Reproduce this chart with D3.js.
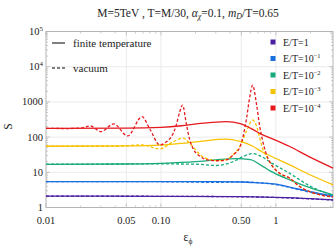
<!DOCTYPE html>
<html>
<head>
<meta charset="utf-8">
<script src="https://cdn.jsdelivr.net/npm/d3@7"></script>
<style>
  body { margin: 0; background: #fff; }
  text { font-family: "Liberation Serif", "DejaVu Serif", serif; fill: #222; }
</style>
</head>
<body>
<div id="chart"></div>
<script>
// series data, S vs eps_phi
// E/T = 1
var eps1 = [0.01, 0.1, 0.5, 1, 2, 3.14];
var fin1 = [2.1, 2.08, 2.03, 1.93, 1.78, 1.65];
var vac1 = [2.1, 2.08, 2.02, 1.92, 1.76, 1.63];

// E/T = 1e-1
var eps2 = [0.01, 0.1, 0.3, 0.5, 0.7, 1, 1.32, 2, 3.14];
var fin2 = [5.4, 5.4, 5.4, 5.3, 5.0, 4.6, 3.8, 2.8, 2.1];
var vac2 = [5.4, 5.4, 5.2, 5.35, 5.1, 4.5, 3.7, 2.7, 2.05];

// E/T = 1e-2
var eps3fin = [0.01, 0.05, 0.1, 0.2, 0.3, 0.45, 0.6, 0.75, 0.89, 1.32, 2, 3.14];
var fin3 = [16.9, 17.2, 18, 20, 22.5, 24.5, 23, 15.5, 11, 6.1, 3.6, 2.3];
var eps3vac = [0.01, 0.1, 0.2, 0.3, 0.38, 0.45, 0.53, 0.63, 0.75, 0.89, 1.32, 2, 3.14];
var vac3 = [16.9, 17.3, 17, 15.6, 17.5, 22, 29, 34, 28, 19.5, 9.3, 4.0, 2.2];

// E/T = 1e-3
var eps4fin = [0.01, 0.05, 0.1, 0.15, 0.22, 0.37, 0.49, 0.63, 0.75, 0.89, 1.32, 1.98, 3.14];
var fin4 = [55, 56, 59, 66, 76, 88, 75, 55, 39, 29.5, 16.2, 8.5, 4.4];
var eps4vac = [0.01, 0.04, 0.068, 0.097, 0.128, 0.155, 0.19, 0.22, 0.266, 0.309, 0.37, 0.425,
               0.487, 0.556, 0.627, 0.68, 0.72, 0.77, 0.82, 0.89, 1.05, 1.32, 1.6, 1.98, 3.14];
var vac4 = [55, 55, 60, 46, 74, 93, 53, 31, 23, 21.5, 23, 32,
            55, 150, 306, 200, 100, 45, 30, 19, 10, 6.8, 4, 2.8, 2.0];

// E/T = 1e-4
var eps5fin = [0.01, 0.05, 0.1, 0.15, 0.22, 0.37, 0.49, 0.63, 0.75, 0.89, 1.32, 1.98, 3.14];
var fin5 = [178, 180, 190, 210, 245, 275, 240, 165, 120, 95, 54, 27, 13.2];
var eps5vac = [0.01, 0.015, 0.02, 0.0243, 0.03, 0.0388, 0.0513, 0.0684, 0.08, 0.098, 0.112, 0.128,
               0.136, 0.146, 0.154, 0.167, 0.178, 0.19, 0.22, 0.266, 0.309, 0.37, 0.425, 0.487,
               0.556, 0.59, 0.627, 0.68, 0.72, 0.77, 0.82, 0.89, 1.05, 1.32, 1.6, 1.98, 3.14];
var vac5 = [178, 175, 180, 207, 143, 236, 108, 380, 170, 60, 74.5, 128,
            222, 530, 815, 222, 83, 48, 28, 22, 21.3, 22.5, 31, 53,
            344, 1270, 2970, 820, 222, 74.5, 35, 19, 10, 6.8, 4, 2.8, 2.0];

var legendLabels = ["1", "10", "10", "10", "10"];
var legendExps = ["", "\u22121", "\u22122", "\u22123", "\u22124"];
var colors = ["#4a1fa0", "#1a6fe0", "#17aa7c", "#f7c200", "#e5191e"];

var xTicks = [0.01, 0.05, 0.1, 0.5, 1];
var xTickLabels = ["0.01", "0.05", "0.10", "0.50", "1"];
var yTicks = [1, 10, 100, 1000, 1e4, 1e5];
var yTickLabels = ["1", "10", "100", "1000", "10", "10"];
var yTickExps = ["", "", "", "", "4", "5"];

var W = 336, H = 249;
var margin = {top: 31.5, right: 3, bottom: 41.5, left: 46};

var svg = d3.select("#chart").append("svg")
    .attr("width", W).attr("height", H);

var x = d3.scaleLog().domain([0.01, 3.14]).range([margin.left, W - margin.right]);
var y = d3.scaleLog().domain([1, 1e5]).range([H - margin.bottom, margin.top]);

var x0 = x.range()[0], x1 = x.range()[1], y0 = y.range()[0], y1 = y.range()[1];

// grid lines
var grid = svg.append("g");
grid.selectAll("line.gx")
    .data([0.05, 0.1, 0.5, 1])
    .enter().append("line")
    .attr("x1", function(d) { return x(d); }).attr("x2", function(d) { return x(d); })
    .attr("y1", y1).attr("y2", y0)
    .style("stroke", "#ebebeb").style("stroke-width", 1);
grid.selectAll("line.gy")
    .data([10, 100, 1000, 1e4])
    .enter().append("line")
    .attr("x1", x0).attr("x2", x1)
    .attr("y1", function(d) { return y(d); }).attr("y2", function(d) { return y(d); })
    .style("stroke", "#ebebeb").style("stroke-width", 1);

// frame with ticks
var axisCol = "#b4b4b4";
var xMinor = [];
[0.01, 0.1, 1].forEach(function(b) {
  for (var k = 1; k < 10; k++) { var v = b * k; if (v <= 3.14) xMinor.push(v); }
});
var yMinor = [];
[1, 10, 100, 1000, 1e4].forEach(function(b) {
  for (var k = 1; k < 10; k++) yMinor.push(b * k);
});

var frame = svg.append("g");
frame.selectAll("line.xt").data(xMinor).enter().append("line")
    .attr("x1", function(d) { return x(d); }).attr("x2", function(d) { return x(d); })
    .attr("y1", y0).attr("y2", function(d) { return y0 - (xTicks.indexOf(d) >= 0 ? 4 : 2); })
    .style("stroke", axisCol).style("stroke-width", 0.7);
frame.selectAll("line.xtt").data(xMinor).enter().append("line")
    .attr("x1", function(d) { return x(d); }).attr("x2", function(d) { return x(d); })
    .attr("y1", y1).attr("y2", function(d) { return y1 + (xTicks.indexOf(d) >= 0 ? 4 : 2); })
    .style("stroke", axisCol).style("stroke-width", 0.7);
frame.selectAll("line.yt").data(yMinor).enter().append("line")
    .attr("x1", x0).attr("x2", function(d) { return x0 + (yTicks.indexOf(d) >= 0 ? 4 : 2); })
    .attr("y1", function(d) { return y(d); }).attr("y2", function(d) { return y(d); })
    .style("stroke", axisCol).style("stroke-width", 0.7);
frame.selectAll("line.ytr").data(yMinor).enter().append("line")
    .attr("x1", x1).attr("x2", function(d) { return x1 - (yTicks.indexOf(d) >= 0 ? 4 : 2); })
    .attr("y1", function(d) { return y(d); }).attr("y2", function(d) { return y(d); })
    .style("stroke", axisCol).style("stroke-width", 0.7);
frame.append("rect")
    .attr("x", x0).attr("y", y1).attr("width", x1 - x0).attr("height", y0 - y1)
    .style("fill", "none").style("stroke", axisCol).style("stroke-width", 1);

// tick labels
svg.selectAll("text.xl").data(xTicks).enter().append("text")
    .attr("x", function(d) { return x(d); }).attr("y", y0 + 16)
    .attr("text-anchor", "middle").style("font-size", "10.5px")
    .text(function(d, i) { return xTickLabels[i]; });

var yl = svg.selectAll("text.yl").data(yTicks).enter().append("text")
    .attr("x", x0 - 3).attr("y", function(d) { return y(d) + 3.5; })
    .attr("text-anchor", "end").style("font-size", "10.5px");
yl.append("tspan").text(function(d, i) { return yTickLabels[i]; });
yl.append("tspan").attr("dy", -4).style("font-size", "7px")
    .text(function(d, i) { return yTickExps[i]; });

// curves
var line = d3.line()
    .x(function(d) { return x(d[0]); })
    .y(function(d) { return y(d[1]); })
    .curve(d3.curveMonotoneX);

var seriesList = [
  [eps1, fin1, eps1, vac1],
  [eps2, fin2, eps2, vac2],
  [eps3fin, fin3, eps3vac, vac3],
  [eps4fin, fin4, eps4vac, vac4],
  [eps5fin, fin5, eps5vac, vac5]
];

var plot = svg.append("g");
seriesList.forEach(function(s, i) {
  plot.append("path")
      .attr("d", line(d3.zip(s[0], s[1])))
      .style("fill", "none").style("stroke", colors[i]).style("stroke-width", 1.3);
  plot.append("path")
      .attr("d", line(d3.zip(s[2], s[3])))
      .style("fill", "none").style("stroke", colors[i]).style("stroke-width", 1.3)
      .style("stroke-dasharray", "3,2");
});

// line-style legend
var lsLeg = svg.append("g");
lsLeg.append("line").attr("x1", 52).attr("x2", 65).attr("y1", 43).attr("y2", 43)
    .style("stroke", "#555").style("stroke-width", 1.5);
lsLeg.append("text").attr("x", 73).attr("y", 46.5).style("font-size", "11px").text("finite temperature");
lsLeg.append("line").attr("x1", 52).attr("x2", 65).attr("y1", 68).attr("y2", 68)
    .style("stroke", "#555").style("stroke-width", 1.5).style("stroke-dasharray", "3,2");
lsLeg.append("text").attr("x", 73).attr("y", 71.5).style("font-size", "11px").text("vacuum");

// colour legend
var cLeg = svg.append("g");
legendLabels.forEach(function(lab, i) {
  var cy = 42 + i * 16.5;
  cLeg.append("rect").attr("x", 270.5).attr("y", cy - 2.5).attr("width", 5).attr("height", 5)
      .style("fill", colors[i]);
  var t = cLeg.append("text").attr("x", 283).attr("y", cy + 3.5).style("font-size", "10px");
  t.append("tspan").text("E/T=" + lab);
  if (legendExps[i]) t.append("tspan").attr("dy", -4).style("font-size", "6.5px").text(legendExps[i]);
});

// title
var title = svg.append("text").attr("x", 188).attr("y", 17)
    .attr("text-anchor", "middle").style("font-size", "11.5px");
title.append("tspan").text("M=5TeV , T=M/30, ");
title.append("tspan").style("font-style", "italic").text("\u03b1");
title.append("tspan").attr("dy", 2).style("font-size", "8px").style("font-style", "italic").text("\u03c7");
title.append("tspan").attr("dy", -2).text("=0.1, ");
title.append("tspan").style("font-style", "italic").text("m");
title.append("tspan").attr("dy", 2).style("font-size", "8px").style("font-style", "italic").text("D");
title.append("tspan").attr("dy", -2).text("/T=0.65");

// axis labels
svg.append("text").attr("transform", "translate(12," + (y(200)) + ") rotate(-90)")
    .attr("text-anchor", "middle").style("font-size", "11.5px").text("S");
var xlab = svg.append("text").attr("x", 188).attr("y", 241)
    .attr("text-anchor", "middle").style("font-size", "11.5px");
xlab.append("tspan").text("\u03b5");
xlab.append("tspan").attr("dy", 2.5).style("font-size", "7.5px").text("\u03d5");
</script>
</body>
</html>
